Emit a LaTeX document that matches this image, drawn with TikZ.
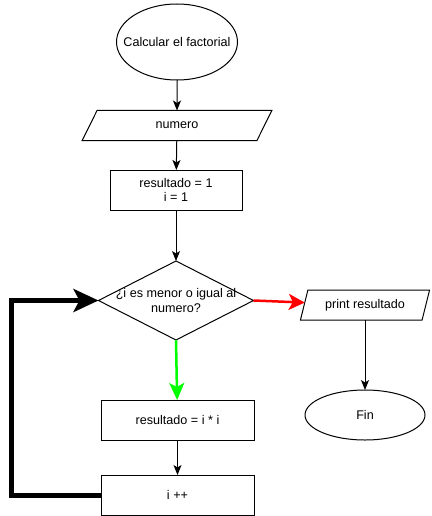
\documentclass[tikz,border=0pt]{standalone}
\usepackage{fontspec}
\setmainfont{Liberation Sans}
\usetikzlibrary{shapes.geometric,arrows.meta}
\begin{document}
\begin{tikzpicture}[x=1pt,y=-1pt,
  every node/.style={font=\fontsize{12.6pt}{14.5pt}\selectfont, inner sep=0pt, outer sep=0pt},
  term/.style={draw, ellipse, line width=1pt},
  proc/.style={draw, rectangle, line width=1pt, align=center},
  io/.style={draw, trapezium, trapezium stretches=true, minimum height=30pt, line width=1pt},
  dia/.style={draw, diamond, line width=1pt, minimum width=155pt, minimum height=79pt},
  flow/.style={line width=1pt, -{Stealth[length=10pt,width=8pt,inset=2.5pt]}},
  yes/.style={line width=2.5pt, draw={rgb,255:red,0;green,255;blue,0}, -{Stealth[length=17pt,width=15pt,inset=4pt]}},
  no/.style={line width=2.5pt, draw={rgb,255:red,255;green,0;blue,0}, -{Stealth[length=16pt,width=16pt,inset=4pt]}},
  back/.style={line width=5pt, -{Stealth[length=25pt,width=23pt,inset=6pt]}}
]
\useasboundingbox (0,0) rectangle (431,516);
\node[term, minimum width=121pt, minimum height=76pt] (start) at (177,42) {};
\node (starttext) at (start.center) {Calcular el factorial};
\node[io, minimum width=190pt, trapezium left angle=60, trapezium right angle=120] (num) at (177,125.5) {numero};
\node[proc, minimum width=132pt, minimum height=40pt] (init) at (176,190) {resultado = 1\\i = 1};
\node[dia] (dec) at (176,300.5) {};
\node[align=center] (dectext) at (dec.center) {¿i es menor o igual al\\numero?};
\node[io, minimum width=130pt, trapezium left angle=66, trapezium right angle=114] (out) at (365,305) {print resultado};
\node[term, minimum width=120pt, minimum height=50pt] (fin) at (365,415) {Fin};
\node[proc, minimum width=153pt, minimum height=40pt] (mul) at (177.5,420) {resultado = i * i};
\node[proc, minimum width=153pt, minimum height=40pt] (inc) at (177.5,495) {i ++};
\coordinate (loop) at (11,300.5);

\draw[flow] (start) -- (num);
\draw[flow] (num) -- (init);
\draw[flow] (init) -- (dec.north);
\draw[no] (dec.east) -- (out);
\draw[flow] (out) -- (fin);
\draw[yes] (dec.south) -- (mul);
\draw[flow] (mul) -- (inc);
\draw[back] (inc.west) -| (loop) -- (dec.west);
\end{tikzpicture}
\end{document}
